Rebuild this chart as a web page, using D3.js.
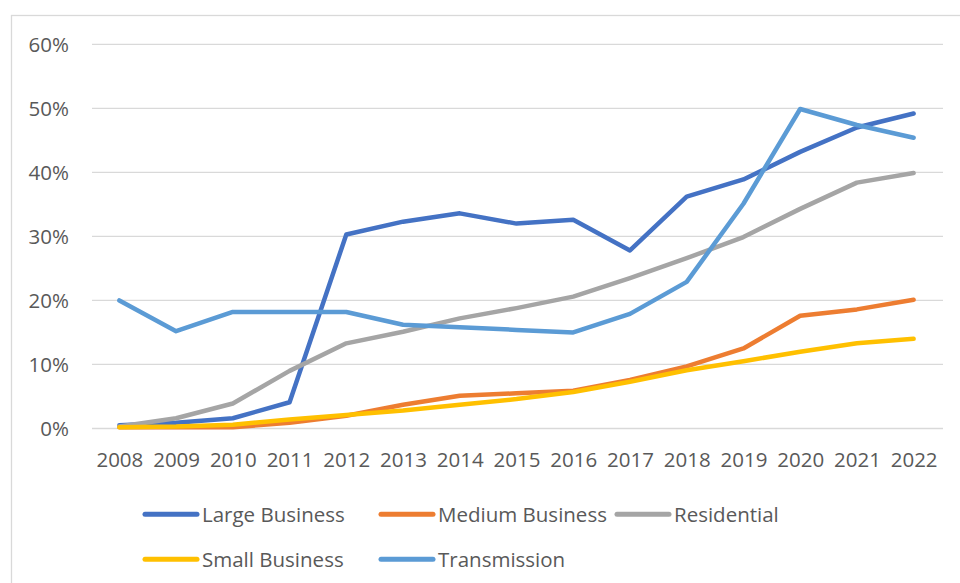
<!DOCTYPE html>
<html>
<head>
<meta charset="utf-8">
<script src="https://cdn.jsdelivr.net/npm/d3@7"></script>
<style>
  html, body { margin: 0; padding: 0; background: #fff; }
  svg { display: block; }
  text { font-family: "Open Sans", "Liberation Sans", sans-serif; fill: #595959; }
</style>
</head>
<body>
<svg id="chart" width="960" height="583"></svg>
<script>
// Share of each customer class, 2008–2022 (percent)
const years = [2008, 2009, 2010, 2011, 2012, 2013, 2014, 2015, 2016, 2017, 2018, 2019, 2020, 2021, 2022];
const largeBusiness  = [0.5, 0.9, 1.6, 4.1, 30.3, 32.3, 33.6, 32.0, 32.6, 27.8, 36.2, 38.9, 43.2, 47.0, 49.2];
const mediumBusiness = [0.2, 0.2, 0.2, 0.9, 2.0, 3.7, 5.1, 5.5, 5.9, 7.6, 9.7, 12.5, 17.6, 18.6, 20.1];
const residential    = [0.3, 1.6, 3.9, 9.0, 13.3, 15.1, 17.2, 18.8, 20.6, 23.5, 26.6, 29.9, 34.3, 38.4, 39.9];
const smallBusiness  = [0.2, 0.3, 0.6, 1.4, 2.1, 2.8, 3.7, 4.6, 5.7, 7.3, 9.1, 10.5, 12.0, 13.3, 14.0];
const transmission   = [20.0, 15.2, 18.2, 18.2, 18.2, 16.2, 15.8, 15.4, 15.0, 17.9, 22.9, 35.1, 49.9, 47.4, 45.4];
const yTicks = [0, 10, 20, 30, 40, 50, 60];

const seriesNames  = ["Large Business", "Medium Business", "Residential", "Small Business", "Transmission"];
const seriesValues = [largeBusiness, mediumBusiness, residential, smallBusiness, transmission];
const seriesColors = ["#4472C4", "#ED7D31", "#A5A5A5", "#FFC000", "#5B9BD5"];

const svg = d3.select("#chart");

// chart frame
svg.append("rect")
  .attr("x", 11.5).attr("y", 15.5)
  .attr("width", 980).attr("height", 600)
  .attr("fill", "none")
  .attr("stroke", "#d9d9d9")
  .attr("stroke-width", 1.3);

const x = d3.scalePoint().domain(years).range([91, 942]).padding(0.5);
const y = d3.scaleLinear().domain([0, 60]).range([428.5, 44.3]);

// horizontal gridlines
svg.append("g")
  .selectAll("line")
  .data(yTicks)
  .join("line")
  .attr("x1", 92).attr("x2", 943)
  .attr("y1", d => y(d)).attr("y2", d => y(d))
  .attr("stroke", "#d9d9d9")
  .attr("stroke-width", 1.3);

// y axis labels
const yAxis = d3.axisLeft(y).tickValues(yTicks).tickFormat(d => d + "%").tickSize(0).tickPadding(0);
const gy = svg.append("g").attr("transform", "translate(69,0)").call(yAxis);
gy.select(".domain").remove();
gy.selectAll("text")
  .attr("font-size", 20.5)
  .attr("dy", "0.36em")
  .attr("fill", "#595959")
  .style("font-family", "'Open Sans', sans-serif");

// x axis labels
const xAxis = d3.axisBottom(x).tickSize(0).tickPadding(0);
const gx = svg.append("g").attr("transform", "translate(0,452)").call(xAxis);
gx.select(".domain").remove();
gx.selectAll("text")
  .attr("font-size", 20.5)
  .attr("dy", "0.75em")
  .attr("fill", "#595959")
  .style("font-family", "'Open Sans', sans-serif");

// series lines
const line = d3.line()
  .x((d, i) => x(years[i]))
  .y(d => y(d));

svg.append("g")
  .selectAll("path")
  .data(seriesValues)
  .join("path")
  .attr("d", d => line(d))
  .attr("fill", "none")
  .attr("stroke", (d, i) => seriesColors[i])
  .attr("stroke-width", 4.5)
  .attr("stroke-linejoin", "round")
  .attr("stroke-linecap", "round");

// legend
const legendPos = [
  { lx: 145, ly: 514.3 },
  { lx: 381, ly: 514.3 },
  { lx: 617, ly: 514.3 },
  { lx: 145, ly: 559.3 },
  { lx: 381, ly: 559.3 }
];
const legend = svg.append("g")
  .selectAll("g")
  .data(seriesNames)
  .join("g")
  .attr("transform", (d, i) => `translate(${legendPos[i].lx},${legendPos[i].ly})`);

legend.append("line")
  .attr("x1", 0).attr("x2", 52)
  .attr("y1", 0).attr("y2", 0)
  .attr("stroke", (d, i) => seriesColors[i])
  .attr("stroke-width", 5)
  .attr("stroke-linecap", "round");

legend.append("text")
  .attr("x", 57)
  .attr("y", 7.3)
  .attr("font-size", 20.5)
  .text(d => d);
</script>
</body>
</html>
